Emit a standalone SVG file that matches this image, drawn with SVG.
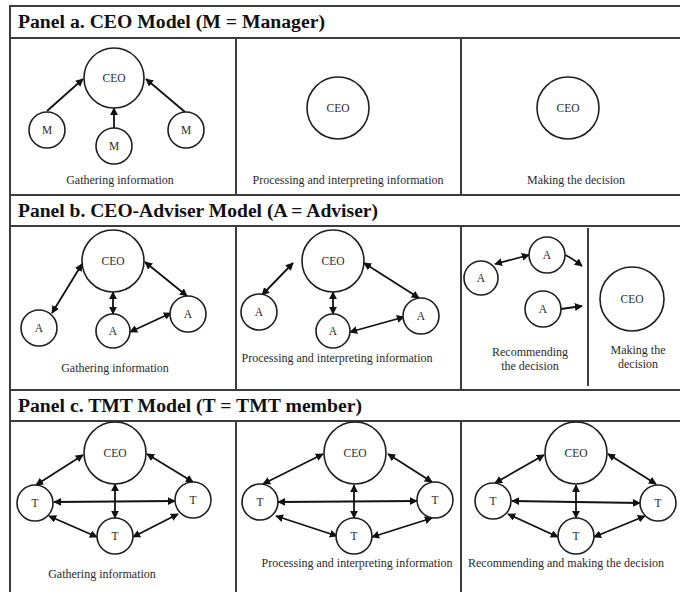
<svg xmlns="http://www.w3.org/2000/svg" width="680" height="592" viewBox="0 0 680 592">
  <style>
    .frame { stroke: #3c3c3c; stroke-width: 2; fill: none; }
    .node circle { fill: #fff; stroke: #1e1e1e; stroke-width: 1.6; }
    .node text { font-family: "Liberation Serif", "Times New Roman", serif; font-size: 11.5px; fill: #2a2a2a; text-anchor: middle; }
    .title { font-family: "Liberation Serif", "Times New Roman", serif; font-size: 18.5px; font-weight: bold; fill: #111; }
    .cap { font-family: "Liberation Serif", "Times New Roman", serif; font-size: 12px; fill: #2a2a2a; text-anchor: middle; }
    .one { stroke: #111; stroke-width: 1.8; fill: none; marker-end: url(#head); }
    .two { stroke: #111; stroke-width: 1.8; fill: none; marker-start: url(#head); marker-end: url(#head); }
  </style>
  <defs>
    <marker id="head" viewBox="0 0 10 10" refX="9" refY="5" markerWidth="4.4" markerHeight="4.4" orient="auto-start-reverse" markerUnits="strokeWidth">
      <path d="M0,0 L10,5 L0,10 z" fill="#111"/>
    </marker>
  </defs>
  <rect width="680" height="592" fill="#fff"/>

  <!-- table frame -->
  <g id="frame" class="frame">
    <line x1="10" y1="6" x2="680" y2="6"/>
    <line x1="10" y1="38" x2="680" y2="38"/>
    <line x1="10" y1="195" x2="680" y2="195"/>
    <line x1="10" y1="226" x2="680" y2="226"/>
    <line x1="10" y1="390" x2="680" y2="390"/>
    <line x1="10" y1="421" x2="680" y2="421"/>
    <line x1="10" y1="5" x2="10" y2="592"/>
    <line x1="236" y1="38" x2="236" y2="195"/>
    <line x1="461" y1="38" x2="461" y2="195"/>
    <line x1="236" y1="226" x2="236" y2="390"/>
    <line x1="461" y1="226" x2="461" y2="390"/>
    <line x1="588" y1="228" x2="588" y2="386"/>
    <line x1="236" y1="421" x2="236" y2="592"/>
    <line x1="461" y1="421" x2="461" y2="592"/>
  </g>

  <!-- panel titles -->
  <g id="titles">
    <text class="title" x="18" y="28" textLength="307" lengthAdjust="spacingAndGlyphs">Panel a. CEO Model (M = Manager)</text>
    <text class="title" x="18" y="217" textLength="360" lengthAdjust="spacingAndGlyphs">Panel b. CEO-Adviser Model (A = Adviser)</text>
    <text class="title" x="18" y="412" textLength="344" lengthAdjust="spacingAndGlyphs">Panel c. TMT Model (T = TMT member)</text>
  </g>

  <!-- captions -->
  <g id="captions">
    <text class="cap" x="120" y="184">Gathering information</text>
    <text class="cap" x="348" y="184">Processing and interpreting information</text>
    <text class="cap" x="576" y="184">Making the decision</text>
    <text class="cap" x="115" y="372">Gathering information</text>
    <text class="cap" x="337" y="362">Processing and interpreting information</text>
    <text class="cap" x="530" y="356">Recommending</text>
    <text class="cap" x="530" y="370">the decision</text>
    <text class="cap" x="638" y="354">Making the</text>
    <text class="cap" x="638" y="368">decision</text>
    <text class="cap" x="102" y="578">Gathering information</text>
    <text class="cap" x="357" y="567">Processing and interpreting information</text>
    <text class="cap" x="566" y="567">Recommending and making the decision</text>
  </g>

  <!-- connectors -->
  <g id="connectors">
    <!-- panel a -->
    <line class="one" x1="47" y1="111" x2="83" y2="79"/>
    <line class="one" x1="114" y1="128" x2="114" y2="108"/>
    <line class="one" x1="185" y1="112" x2="146" y2="79"/>
    <!-- panel b, gathering -->
    <line class="two" x1="82" y1="264" x2="52" y2="313"/>
    <line class="two" x1="113" y1="292" x2="113" y2="314"/>
    <line class="two" x1="145" y1="262" x2="187" y2="296"/>
    <line class="two" x1="130" y1="332" x2="171" y2="313"/>
    <!-- panel b, processing -->
    <line class="two" x1="293" y1="263" x2="262" y2="295"/>
    <line class="two" x1="333" y1="292" x2="333" y2="314"/>
    <line class="two" x1="364" y1="263" x2="419" y2="298"/>
    <line class="two" x1="350" y1="332" x2="404" y2="317"/>
    <!-- panel b, recommending -->
    <line class="two" x1="495" y1="264" x2="529" y2="255"/>
    <path class="one" d="M565,255 Q572,258 582,266"/>
    <line class="one" x1="561" y1="309" x2="582" y2="306"/>
    <!-- panel c, gathering -->
    <line class="two" x1="83" y1="455" x2="36" y2="485"/>
    <line class="two" x1="147" y1="454" x2="193" y2="482"/>
    <line class="two" x1="115" y1="484" x2="115" y2="518"/>
    <line class="two" x1="54" y1="502" x2="175" y2="501"/>
    <line class="two" x1="49" y1="516" x2="97" y2="537"/>
    <line class="two" x1="133" y1="537" x2="178" y2="514"/>
    <!-- panel c, processing -->
    <line class="two" x1="323" y1="454" x2="263" y2="484"/>
    <line class="two" x1="388" y1="454" x2="432" y2="482"/>
    <line class="two" x1="354" y1="485" x2="354" y2="518"/>
    <line class="two" x1="278" y1="502" x2="417" y2="501"/>
    <line class="two" x1="276" y1="516" x2="337" y2="536"/>
    <line class="two" x1="372" y1="537" x2="432" y2="518"/>
    <!-- panel c, recommending and deciding -->
    <line class="two" x1="544" y1="455" x2="495" y2="483"/>
    <line class="two" x1="608" y1="454" x2="656" y2="484"/>
    <line class="two" x1="576" y1="485" x2="576" y2="518"/>
    <line class="two" x1="512" y1="501" x2="640" y2="503"/>
    <line class="two" x1="508" y1="514" x2="558" y2="537"/>
    <line class="two" x1="594" y1="537" x2="645" y2="516"/>
  </g>

  <!-- panel a nodes -->
  <g id="a-ceo1" class="node"><circle cx="114" cy="78" r="30"/><text x="114" y="82">CEO</text></g>
  <g id="a-m1" class="node"><circle cx="47" cy="130" r="18"/><text x="47" y="134">M</text></g>
  <g id="a-m2" class="node"><circle cx="114" cy="146" r="18"/><text x="114" y="150">M</text></g>
  <g id="a-m3" class="node"><circle cx="186" cy="130" r="18"/><text x="186" y="134">M</text></g>
  <g id="a-ceo2" class="node"><circle cx="338" cy="108" r="31"/><text x="338" y="112">CEO</text></g>
  <g id="a-ceo3" class="node"><circle cx="568" cy="108" r="31"/><text x="568" y="112">CEO</text></g>

  <!-- panel b nodes -->
  <g id="b-ceo1" class="node"><circle cx="113" cy="261" r="31"/><text x="113" y="265">CEO</text></g>
  <g id="b-a1" class="node"><circle cx="39" cy="328" r="18"/><text x="39" y="332">A</text></g>
  <g id="b-a2" class="node"><circle cx="113" cy="331" r="17"/><text x="113" y="335">A</text></g>
  <g id="b-a3" class="node"><circle cx="188" cy="314" r="18"/><text x="188" y="318">A</text></g>
  <g id="b-ceo2" class="node"><circle cx="333" cy="261" r="31"/><text x="333" y="265">CEO</text></g>
  <g id="b-a4" class="node"><circle cx="259" cy="312" r="18"/><text x="259" y="316">A</text></g>
  <g id="b-a5" class="node"><circle cx="333" cy="331" r="17"/><text x="333" y="335">A</text></g>
  <g id="b-a6" class="node"><circle cx="421" cy="316" r="18"/><text x="421" y="320">A</text></g>
  <g id="b-a7" class="node"><circle cx="481" cy="278" r="17"/><text x="481" y="282">A</text></g>
  <g id="b-a8" class="node"><circle cx="547" cy="255" r="18"/><text x="547" y="259">A</text></g>
  <g id="b-a9" class="node"><circle cx="543" cy="309" r="18"/><text x="543" y="313">A</text></g>
  <g id="b-ceo3" class="node"><circle cx="632" cy="299" r="32"/><text x="632" y="303">CEO</text></g>

  <!-- panel c nodes -->
  <g id="c-ceo1" class="node"><circle cx="115" cy="453" r="31"/><text x="115" y="457">CEO</text></g>
  <g id="c-t1" class="node"><circle cx="35" cy="503" r="18"/><text x="35" y="507">T</text></g>
  <g id="c-t2" class="node"><circle cx="193" cy="500" r="18"/><text x="193" y="504">T</text></g>
  <g id="c-t3" class="node"><circle cx="115" cy="536" r="18"/><text x="115" y="540">T</text></g>
  <g id="c-ceo2" class="node"><circle cx="355" cy="453" r="31"/><text x="355" y="457">CEO</text></g>
  <g id="c-t4" class="node"><circle cx="260" cy="502" r="18"/><text x="260" y="506">T</text></g>
  <g id="c-t5" class="node"><circle cx="435" cy="500" r="18"/><text x="435" y="504">T</text></g>
  <g id="c-t6" class="node"><circle cx="354" cy="536" r="18"/><text x="354" y="540">T</text></g>
  <g id="c-ceo3" class="node"><circle cx="576" cy="453" r="31"/><text x="576" y="457">CEO</text></g>
  <g id="c-t7" class="node"><circle cx="493" cy="501" r="18"/><text x="493" y="505">T</text></g>
  <g id="c-t8" class="node"><circle cx="658" cy="503" r="18"/><text x="658" y="507">T</text></g>
  <g id="c-t9" class="node"><circle cx="576" cy="536" r="18"/><text x="576" y="540">T</text></g>
</svg>
